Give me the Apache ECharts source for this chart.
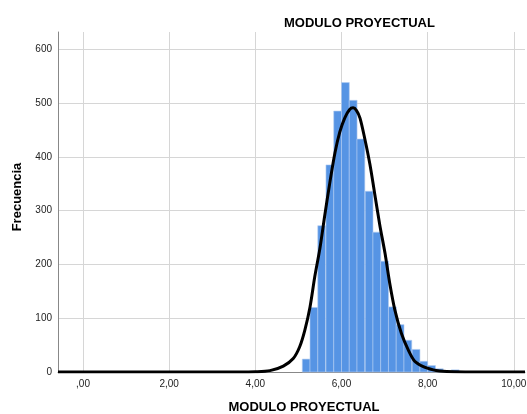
<!DOCTYPE html>
<html>
<head>
<meta charset="utf-8">
<script src="https://cdn.jsdelivr.net/npm/echarts@6/dist/echarts.min.js"></script>
<style>
	html, body { margin: 0; padding: 0; background: #fff; }
	#chart { width: 527px; height: 414px; }
</style>
</head>
<body>
<div id="chart"></div>
<script>
// bordes izquierdos de cada intervalo del histograma
var binStarts = [5.09, 5.27, 5.45, 5.64, 5.82, 6.00, 6.18, 6.36, 6.55, 6.73,
	6.91, 7.09, 7.27, 7.45, 7.64, 7.82, 8.00, 8.18, 8.36, 8.55];
var binWidth = 0.182;
// frecuencias
var binCounts = [24, 120, 272, 385, 485, 538, 505, 433, 336, 260,
	206, 121, 88, 59, 42, 20, 12, 6, 2, 4];

// curva normal
var curveX = [-0.58, 3.6, 4.0, 4.34, 4.65, 4.88, 5.03, 5.15, 5.27, 5.38, 5.50, 5.61, 5.73,
	5.85, 5.96, 6.08, 6.19, 6.27, 6.35, 6.43, 6.54, 6.66, 6.77, 6.89, 7.01, 7.12, 7.24, 7.39,
	7.55, 7.70, 7.90, 8.13, 8.28, 8.60, 9.00, 10.26];
var curveY = [0, 0, 0.4, 2.5, 11, 25, 47, 78, 121, 177, 230, 290, 352,
	408, 446, 473, 488, 491, 486, 472, 434, 386, 332, 273, 221, 165, 115, 72,
	41, 20, 10, 4, 2, 0.3, 0, 0];

// marcas del eje x
var xTickMin = 0;
var xTickStep = 2;

var titleText = 'MODULO PROYECTUAL';
var xName = 'MODULO PROYECTUAL';
var yName = 'Frecuencia';

var font = '"Liberation Sans", Arial, sans-serif';

var histData = binStarts.map(function(s, i) {
	return [s, s + binWidth, binCounts[i]];
});
var curveData = curveX.map(function(x, i) {
	return [x, curveY[i]];
});

var chart = echarts.init(document.getElementById('chart'));

var option = {
	backgroundColor: '#fff',
	animation: false,
	title: {
		text: titleText,
		left: 279,
		top: 12,
		textStyle: {
			fontFamily: font,
			fontSize: 13,
			fontWeight: 'bold',
			color: '#000'
		}
	},
	// grid 0: datos; grid 1: solo para las marcas del eje x (empiezan en 0)
	grid: [{
		left: 58,
		right: 2,
		top: 32,
		bottom: 42,
		containLabel: false,
		outerBoundsMode: 'none'
	}, {
		left: 83,
		right: 2,
		top: 32,
		bottom: 42,
		containLabel: false,
		outerBoundsMode: 'none'
	}],
	xAxis: [{
		type: 'value',
		gridIndex: 0,
		min: -0.58,
		max: 10.26,
		axisLine: { show: true, onZero: false, lineStyle: { color: '#888', width: 1 } },
		axisTick: { show: false },
		axisLabel: { show: false },
		splitLine: { show: false }
	}, {
		type: 'value',
		gridIndex: 1,
		min: xTickMin,
		max: 10.26,
		interval: xTickStep,
		name: xName,
		nameLocation: 'middle',
		nameGap: 29,
		nameTextStyle: {
			fontFamily: font,
			fontSize: 13,
			fontWeight: 'bold',
			color: '#000'
		},
		axisLine: { show: false, onZero: false },
		axisTick: { show: false },
		axisLabel: {
			showMaxLabel: false,
			margin: 7,
			fontFamily: font,
			fontSize: 10,
			color: '#222',
			formatter: function(v) {
				var s = v.toFixed(2).replace('.', ',');
				return s.indexOf('0,') === 0 ? s.substring(1) : s;
			}
		},
		splitLine: {
			show: true,
			showMaxLine: false,
			lineStyle: { color: '#d6d6d6', width: 1 }
		}
	}],
	yAxis: [{
		type: 'value',
		gridIndex: 0,
		min: 0,
		max: 632,
		interval: 100,
		name: yName,
		nameLocation: 'middle',
		nameGap: 29,
		nameTextStyle: {
			fontFamily: font,
			fontSize: 13,
			fontWeight: 'bold',
			color: '#000',
			padding: [0, 0, 0, 10]
		},
		axisLine: { show: true, onZero: false, lineStyle: { color: '#888', width: 1 } },
		axisTick: { show: false },
		axisLabel: {
			showMaxLabel: false,
			margin: 6,
			fontFamily: font,
			fontSize: 10,
			color: '#222'
		},
		splitLine: {
			show: true,
			showMaxLine: false,
			lineStyle: { color: '#d6d6d6', width: 1 }
		}
	}, {
		type: 'value',
		gridIndex: 1,
		min: 0,
		max: 632,
		show: false,
		axisLine: { show: false, onZero: false },
		splitLine: { show: false }
	}],
	series: [{
		name: 'hist',
		type: 'custom',
		xAxisIndex: 0,
		yAxisIndex: 0,
		data: histData,
		encode: { x: [0, 1], y: 2 },
		renderItem: function(params, api) {
			var p0 = api.coord([api.value(0), 0]);
			var p1 = api.coord([api.value(1), api.value(2)]);
			return {
				type: 'rect',
				shape: {
					x: p0[0],
					y: p1[1],
					width: p1[0] - p0[0],
					height: p0[1] - p1[1]
				},
				style: {
					fill: '#5694e4',
					stroke: '#b5cff2',
					lineWidth: 0.6
				}
			};
		},
		z: 2
	}, {
		name: 'normal',
		type: 'line',
		xAxisIndex: 0,
		yAxisIndex: 0,
		data: curveData,
		smooth: 0.3,
		showSymbol: false,
		symbol: 'none',
		lineStyle: { color: '#000', width: 3 },
		z: 3
	}]
};

chart.setOption(option);
</script>
</body>
</html>
